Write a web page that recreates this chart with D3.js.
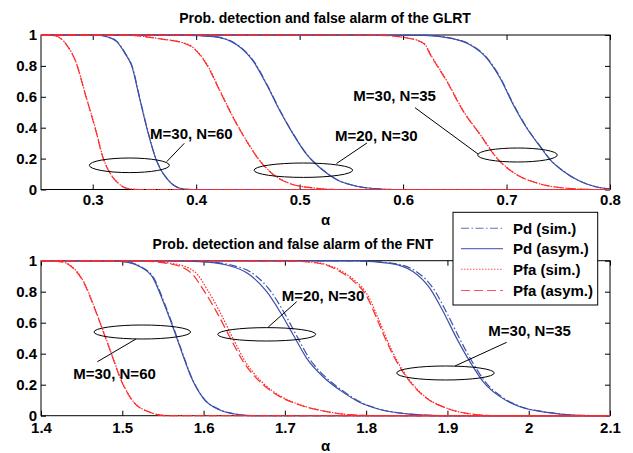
<!DOCTYPE html>
<html><head><meta charset="utf-8">
<script src="https://cdn.jsdelivr.net/npm/d3@7"></script>
<style>
body{margin:0;background:#fff}
svg text{font-family:"Liberation Sans",Arial,Helvetica,sans-serif;font-weight:bold;fill:#000}
</style>
</head><body>
<svg id="chart" width="633" height="453"></svg>
<script>
// ---------------- DATA ----------------
const yTickValues = [0, 0.2, 0.4, 0.6, 0.8, 1];
const yTickLabels = ["0", "0.2", "0.4", "0.6", "0.8", "1"];
const glrtTickValues = [0.3, 0.4, 0.5, 0.6, 0.7, 0.8];
const glrtTickLabels = ["0.3", "0.4", "0.5", "0.6", "0.7", "0.8"];
const fntTickValues = [1.4, 1.5, 1.6, 1.7, 1.8, 1.9, 2.0, 2.1];
const fntTickLabels = ["1.4", "1.5", "1.6", "1.7", "1.8", "1.9", "2", "2.1"];
const seriesNames = ["Pd (sim.)", "Pd (asym.)", "Pfa (sim.)", "Pfa (asym.)"];

// GLRT panel, [alpha, probability]
const glrtPfaAsym_30_60 = [[0.25,1],[0.2635,0.995],[0.2748,0.935],[0.2829,0.838],[0.2935,0.6],[0.3022,0.4],[0.3102,0.2],[0.3167,0.105],[0.3247,0.04],[0.3328,0.008],[0.345,0],[0.8,0]];
const glrtPfaSim_30_60  = [[0.25,1],[0.2637,0.995],[0.2750,0.935],[0.2831,0.838],[0.2937,0.6],[0.3024,0.4],[0.3104,0.2],[0.3169,0.105],[0.3249,0.04],[0.3330,0.008],[0.346,0],[0.8,0]];
const glrtPdAsym_30_60  = [[0.25,1],[0.307,0.998],[0.3135,0.989],[0.3232,0.957],[0.3312,0.881],[0.3377,0.8],[0.345,0.6],[0.3522,0.4],[0.3609,0.2],[0.365,0.137],[0.3715,0.072],[0.3779,0.029],[0.3844,0.008],[0.395,0],[0.8,0]];
const glrtPdSim_30_60   = [[0.25,1],[0.308,0.998],[0.3140,0.989],[0.3236,0.957],[0.3315,0.881],[0.3380,0.8],[0.3452,0.6],[0.3524,0.4],[0.3611,0.2],[0.3652,0.137],[0.3717,0.072],[0.3781,0.029],[0.3846,0.008],[0.396,0],[0.8,0]];
const glrtPfaAsym_20_30 = [[0.25,1],[0.335,0.998],[0.355,0.985],[0.37,0.97],[0.3844,0.955],[0.3972,0.916],[0.4102,0.808],[0.423,0.636],[0.4359,0.463],[0.4488,0.312],[0.4617,0.183],[0.4746,0.096],[0.4907,0.038],[0.5132,0.01],[0.535,0],[0.8,0]];
const glrtPfaSim_20_30  = [[0.25,1],[0.336,0.998],[0.356,0.985],[0.371,0.97],[0.3848,0.955],[0.3976,0.916],[0.4106,0.808],[0.4233,0.636],[0.4362,0.463],[0.4491,0.312],[0.4620,0.183],[0.4749,0.096],[0.4910,0.038],[0.5135,0.01],[0.536,0],[0.8,0]];
const glrtPdAsym_20_30  = [[0.25,1],[0.39,0.998],[0.4166,0.99],[0.4392,0.937],[0.4553,0.829],[0.4682,0.678],[0.4811,0.506],[0.494,0.355],[0.507,0.225],[0.5199,0.139],[0.536,0.063],[0.5554,0.021],[0.575,0.004],[0.59,0],[0.8,0]];
const glrtPdSim_20_30   = [[0.25,1],[0.391,0.998],[0.4171,0.99],[0.4397,0.937],[0.4558,0.829],[0.4686,0.678],[0.4815,0.506],[0.4943,0.355],[0.5073,0.225],[0.5202,0.139],[0.5363,0.063],[0.5557,0.021],[0.576,0.004],[0.591,0],[0.8,0]];
const glrtPfaAsym_30_35 = [[0.25,1],[0.575,0.998],[0.60,0.985],[0.6196,0.946],[0.6277,0.856],[0.6422,0.70],[0.6582,0.506],[0.6744,0.355],[0.6905,0.204],[0.7098,0.096],[0.7292,0.042],[0.7549,0.01],[0.785,0],[0.8,0]];
const glrtPfaSim_30_35  = [[0.25,1],[0.576,0.998],[0.601,0.985],[0.6200,0.946],[0.6281,0.856],[0.6426,0.70],[0.6585,0.506],[0.6747,0.355],[0.6908,0.204],[0.7101,0.096],[0.7295,0.042],[0.7552,0.01],[0.786,0],[0.8,0]];
const glrtPdAsym_30_35  = [[0.25,1],[0.62,0.998],[0.6454,0.98],[0.6647,0.937],[0.6808,0.851],[0.6937,0.722],[0.7065,0.549],[0.7195,0.398],[0.7323,0.279],[0.742,0.193],[0.7549,0.118],[0.771,0.053],[0.7872,0.016],[0.8,0.004]];
const glrtPdSim_30_35   = [[0.25,1],[0.621,0.998],[0.6459,0.98],[0.6652,0.937],[0.6813,0.851],[0.6941,0.722],[0.7069,0.549],[0.7198,0.398],[0.7326,0.279],[0.7423,0.193],[0.7552,0.118],[0.7713,0.053],[0.7875,0.016],[0.8,0.004]];

// FNT panel, [alpha, probability]
const fntPfaAsym_30_60 = [[1.4,1],[1.4234,0.994],[1.4397,0.951],[1.452,0.865],[1.4643,0.714],[1.4766,0.542],[1.487,0.392],[1.4993,0.219],[1.5135,0.09],[1.534,0.022],[1.555,0],[2.1,0]];
const fntPfaSim_30_60  = [[1.4,1],[1.4240,0.994],[1.4403,0.951],[1.4525,0.865],[1.4647,0.714],[1.4769,0.542],[1.4873,0.392],[1.4996,0.219],[1.5138,0.09],[1.5343,0.022],[1.556,0],[2.1,0]];
const fntPdAsym_30_60  = [[1.4,1],[1.48,0.999],[1.5012,0.994],[1.5218,0.961],[1.5381,0.886],[1.5504,0.735],[1.5628,0.564],[1.573,0.413],[1.5854,0.241],[1.5997,0.112],[1.6202,0.037],[1.6407,0.009],[1.66,0],[2.1,0]];
const fntPdSim_30_60   = [[1.4,1],[1.482,0.999],[1.5020,0.994],[1.5228,0.961],[1.5390,0.886],[1.5512,0.735],[1.5634,0.564],[1.5735,0.413],[1.5858,0.241],[1.6001,0.112],[1.6206,0.037],[1.6411,0.009],[1.661,0],[2.1,0]];
const fntPfaAsym_20_30 = [[1.4,1],[1.52,0.998],[1.555,0.983],[1.583,0.929],[1.60,0.81],[1.617,0.66],[1.634,0.49],[1.6489,0.348],[1.6694,0.219],[1.694,0.123],[1.7186,0.069],[1.7515,0.026],[1.79,0.003],[1.82,0],[2.1,0]];
const fntPfaSim_20_30  = [[1.4,1],[1.524,0.998],[1.561,0.983],[1.589,0.929],[1.605,0.81],[1.621,0.66],[1.637,0.49],[1.6515,0.348],[1.6715,0.219],[1.6955,0.123],[1.7196,0.069],[1.7522,0.026],[1.79,0.003],[1.82,0],[2.1,0]];
const fntPdAsym_20_30  = [[1.4,1],[1.56,0.999],[1.5956,0.994],[1.6284,0.972],[1.6571,0.908],[1.6777,0.80],[1.694,0.671],[1.7104,0.521],[1.7269,0.37],[1.7473,0.25],[1.7678,0.165],[1.7924,0.085],[1.817,0.04],[1.85,0.012],[1.88,0.002],[1.9,0],[2.1,0]];
const fntPdSim_20_30   = [[1.4,1],[1.565,0.999],[1.6010,0.994],[1.6340,0.972],[1.6630,0.908],[1.6830,0.80],[1.6985,0.671],[1.7140,0.521],[1.7300,0.37],[1.7500,0.25],[1.7700,0.165],[1.7940,0.085],[1.818,0.04],[1.851,0.012],[1.88,0.002],[1.9,0],[2.1,0]];
const fntPfaAsym_30_35 = [[1.4,1],[1.70,0.999],[1.74,0.985],[1.7678,0.93],[1.7842,0.87],[1.8007,0.77],[1.813,0.628],[1.8253,0.477],[1.8376,0.348],[1.8539,0.219],[1.8745,0.112],[1.8991,0.048],[1.9237,0.015],[1.96,0],[2.1,0]];
const fntPfaSim_30_35  = [[1.4,1],[1.702,0.999],[1.743,0.985],[1.7705,0.93],[1.7866,0.87],[1.8028,0.77],[1.8148,0.628],[1.8268,0.477],[1.8388,0.348],[1.8549,0.219],[1.8752,0.112],[1.8996,0.048],[1.9240,0.015],[1.96,0],[2.1,0]];
const fntPdAsym_30_35  = [[1.4,1],[1.7884,0.999],[1.8293,0.983],[1.858,0.929],[1.8785,0.822],[1.8949,0.671],[1.9114,0.499],[1.9277,0.348],[1.9441,0.219],[1.9646,0.123],[1.9892,0.058],[2.0221,0.022],[2.06,0.003],[2.1,0]];
const fntPdSim_30_35   = [[1.4,1],[1.7910,0.999],[1.8330,0.983],[1.8620,0.929],[1.8825,0.822],[1.8985,0.671],[1.9148,0.499],[1.9305,0.348],[1.9465,0.219],[1.9665,0.123],[1.9905,0.058],[2.0230,0.022],[2.06,0.003],[2.1,0]];

// annotation labels
const glrtLabels = ["M=30, N=60", "M=20, N=30", "M=30, N=35"];
const fntLabels  = ["M=30, N=60", "M=20, N=30", "M=30, N=35"];

// ---------------- STYLE / LAYOUT ----------------
const BLUE = "#3c4fa9", RED = "#ff2a2a";
const styles = {
  pdSim:   {color: BLUE, dash: "8,2.5,1.5,2.5"},
  pdAsym:  {color: BLUE, dash: null},
  pfaSim:  {color: RED,  dash: "1.5,1.5"},
  pfaAsym: {color: RED,  dash: "9,4"}
};
const svg = d3.select("#chart");
const X0 = 41, X1 = 610;

const panels = [
  {
    title: "Prob. detection and false alarm of the GLRT", titleX: 325, titleY: 22.5,
    domain: [0.25, 0.8], yTop: 35, yBot: 189.5, ticks: glrtTickValues, tickLabels: glrtTickLabels,
    xlabelY: 224.5, tickPad: 5,
    curves: [
      [glrtPdAsym_30_60, "pdAsym"], [glrtPdSim_30_60, "pdSim"],
      [glrtPdAsym_20_30, "pdAsym"], [glrtPdSim_20_30, "pdSim"],
      [glrtPdAsym_30_35, "pdAsym"], [glrtPdSim_30_35, "pdSim"],
      [glrtPfaAsym_30_60, "pfaAsym"], [glrtPfaSim_30_60, "pfaSim"],
      [glrtPfaAsym_20_30, "pfaAsym"], [glrtPfaSim_20_30, "pfaSim"],
      [glrtPfaAsym_30_35, "pfaAsym"], [glrtPfaSim_30_35, "pfaSim"]
    ],
    ann: [
      {label: glrtLabels[0], ell: [0.3354, 0.1566, 40, 7.3], line: [[0.3715,0.18],[0.3885,0.299]], text: [0.3554, 0.330]},
      {label: glrtLabels[1], ell: [0.5036, 0.1249, 49.3, 7.2], line: [[0.5356,0.168],[0.5651,0.301]], text: [0.5342, 0.317]},
      {label: glrtLabels[2], ell: [0.7106, 0.2233, 39.8, 7.0], line: [[0.6724,0.2298],[0.6115,0.5295]], text: [0.5519, 0.573]}
    ]
  },
  {
    title: "Prob. detection and false alarm of the FNT", titleX: 293, titleY: 248.5,
    domain: [1.4, 2.1], yTop: 260.7, yBot: 415.7, ticks: fntTickValues, tickLabels: fntTickLabels,
    xlabelY: 451, tickPad: 7,
    curves: [
      [fntPdAsym_30_60, "pdAsym"], [fntPdSim_30_60, "pdSim"],
      [fntPdAsym_20_30, "pdAsym"], [fntPdSim_20_30, "pdSim"],
      [fntPdAsym_30_35, "pdAsym"], [fntPdSim_30_35, "pdSim"],
      [fntPfaAsym_30_60, "pfaAsym"], [fntPfaSim_30_60, "pfaSim"],
      [fntPfaAsym_20_30, "pfaAsym"], [fntPfaSim_20_30, "pfaSim"],
      [fntPfaAsym_30_35, "pfaAsym"], [fntPfaSim_30_35, "pfaSim"]
    ],
    ann: [
      {label: fntLabels[0], ell: [1.5246, 0.54, 48.3, 7], line: [[1.5169,0.4948],[1.4693,0.348]], text: [1.4397, 0.2387]},
      {label: fntLabels[1], ell: [1.6777, 0.525, 49, 6.7], line: [[1.6796,0.572],[1.7146,0.7355]], text: [1.6961, 0.7368]},
      {label: fntLabels[2], ell: [1.8976, 0.2755, 48.8, 7], line: [[1.9093,0.3206],[1.9729,0.4735]], text: [1.9503, 0.511]}
    ]
  }
];

panels.forEach(p => {
  const x = d3.scaleLinear().domain(p.domain).range([X0, X1]);
  const y = d3.scaleLinear().domain([0, 1]).range([p.yBot, p.yTop]);
  const g = svg.append("g");

  // frame
  g.append("rect").attr("x", X0).attr("y", p.yTop).attr("width", X1 - X0).attr("height", p.yBot - p.yTop)
    .attr("fill", "none").attr("stroke", "#000").attr("stroke-width", 1);

  const styleAxis = sel => {
    sel.select(".domain").remove();
    sel.attr("font-family", null).attr("font-size", null);
    sel.selectAll(".tick line").attr("stroke", "#000");
    sel.selectAll(".tick text").style("font-size", "15px");
  };
  g.append("g").attr("transform", `translate(0,${p.yBot})`)
    .call(d3.axisBottom(x).tickValues(p.ticks).tickFormat((d, i) => p.tickLabels[i]).tickSizeInner(-5).tickSizeOuter(0).tickPadding(p.tickPad))
    .call(styleAxis);
  g.append("g").attr("transform", `translate(0,${p.yTop})`)
    .call(d3.axisTop(x).tickValues(p.ticks).tickFormat("").tickSizeInner(-5).tickSizeOuter(0))
    .call(styleAxis);
  g.append("g").attr("transform", `translate(${X0},0)`)
    .call(d3.axisLeft(y).tickValues(yTickValues).tickFormat((d, i) => yTickLabels[i]).tickSizeInner(-5).tickSizeOuter(0).tickPadding(4))
    .call(styleAxis);
  g.append("g").attr("transform", `translate(${X1},0)`)
    .call(d3.axisRight(y).tickValues(yTickValues).tickFormat("").tickSizeInner(-5).tickSizeOuter(0))
    .call(styleAxis);

  // curves
  const line = d3.line().x(d => x(d[0])).y(d => y(d[1])).curve(d3.curveMonotoneX);
  p.curves.forEach(([data, key]) => {
    const s = styles[key];
    g.append("path").attr("d", line(data)).attr("fill", "none")
      .attr("stroke", s.color).attr("stroke-width", 1.2)
      .attr("stroke-dasharray", s.dash);
  });

  // annotations
  p.ann.forEach(a => {
    g.append("ellipse").attr("cx", x(a.ell[0])).attr("cy", y(a.ell[1]))
      .attr("rx", a.ell[2]).attr("ry", a.ell[3])
      .attr("fill", "none").attr("stroke", "#000").attr("stroke-width", 1);
    g.append("line").attr("x1", x(a.line[0][0])).attr("y1", y(a.line[0][1]))
      .attr("x2", x(a.line[1][0])).attr("y2", y(a.line[1][1]))
      .attr("stroke", "#000").attr("stroke-width", 1);
    g.append("text").attr("x", x(a.text[0])).attr("y", y(a.text[1]))
      .style("font-size", "15px").text(a.label);
  });

  // title and x label
  svg.append("text").attr("x", p.titleX).attr("y", p.titleY).attr("text-anchor", "middle")
    .style("font-size", "14px").text(p.title);
  svg.append("text").attr("x", (X0 + X1) / 2).attr("y", p.xlabelY).attr("text-anchor", "middle")
    .style("font-size", "15px").text("α");
});

// legend
const lg = svg.append("g");
lg.append("rect").attr("x", 453).attr("y", 212.3).attr("width", 144.7).attr("height", 92.7)
  .attr("fill", "#fff").attr("stroke", "#000").attr("stroke-width", 1);
const legendKeys = ["pdSim", "pdAsym", "pfaSim", "pfaAsym"];
const legendY = [228.3, 248.6, 269.2, 290.5];
legendKeys.forEach((k, i) => {
  const s = styles[k];
  lg.append("line").attr("x1", 461).attr("x2", 503).attr("y1", legendY[i]).attr("y2", legendY[i])
    .attr("stroke", s.color).attr("stroke-width", 1.1).attr("stroke-dasharray", s.dash).attr("opacity", 0.8);
  lg.append("text").attr("x", 513).attr("y", legendY[i] + 5.4).style("font-size", "15px").text(seriesNames[i]);
});
</script>
</body></html>
